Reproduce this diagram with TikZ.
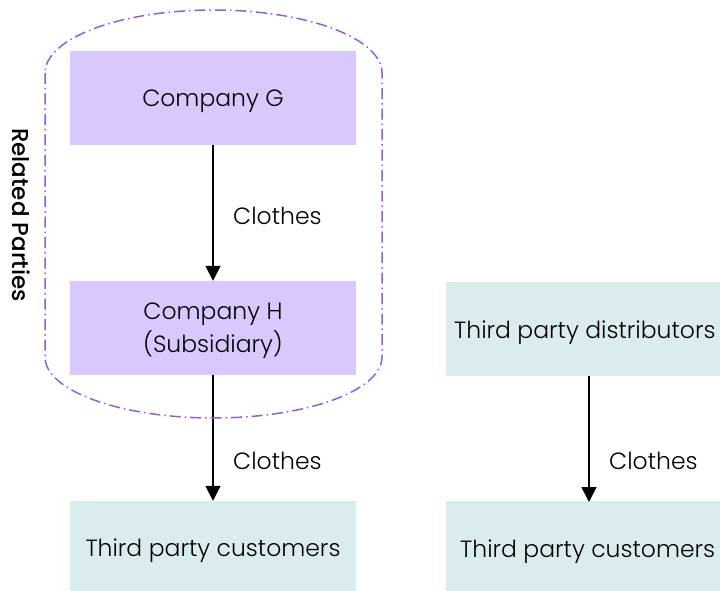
\documentclass[tikz,border=0pt]{standalone}
\usepackage{fontspec}
\setmainfont{Poppins}[UprightFont={* Light}, BoldFont={* Medium}]
\usetikzlibrary{arrows.meta}
\definecolor{lavender}{HTML}{D9C8FD}
\definecolor{paleteal}{HTML}{DBECEE}
\definecolor{groupline}{HTML}{8F5FD8}
\newcommand{\boxfont}{\fontsize{23.5}{33}\selectfont}
\tikzset{
  x=1pt, y=-1pt,
  related/.style={fill=lavender, draw=none, minimum width=286pt, minimum height=94pt,
    align=center, inner sep=0pt, text depth=0pt, font=\boxfont},
  external/.style={fill=paleteal, draw=none, minimum height=94pt,
    align=center, inner sep=0pt, text depth=0pt, font=\boxfont},
  boxtext/.style={font=\boxfont, anchor=west, inner sep=0pt, text depth=0pt},
  flow/.style={draw=black, line width=1.8pt, -{Triangle[length=15pt,width=15pt]}},
  flowlabel/.style={font=\boxfont, anchor=west, inner sep=0pt},
}
\begin{document}
\begin{tikzpicture}
\useasboundingbox (0,0) rectangle (720,591);
\begin{scope}
\clip (0,0) rectangle (720,591);
% related-party group boxes
\node[related] (g) at (213,98) {Company G};
\node[related] (h) at (213,328) {Company H\\(Subsidiary)};
% external parties
\node[external, minimum width=286pt] (c1) at (213,548) {Third party customers};
\node[external, minimum width=290pt, anchor=west] (d) at (446,329) {};
\node[external, minimum width=290pt, anchor=west] (c2) at (446,548) {};
\node[boxtext] (dt) at (454,330) {Third party distributors};
\node[boxtext] (ct) at (460,549) {Third party customers};
\end{scope}
% flows of goods
\coordinate (dbot) at (589,376);
\coordinate (c2top) at (589,502);
\draw[flow] (g.south) -- (h.north);
\draw[flow] (h.south) -- (c1.north);
\draw[flow] (dbot) -- (c2top);
\node[flowlabel] (l1) at (233,216) {Clothes};
\node[flowlabel] (l2) at (233,461) {Clothes};
\node[flowlabel] (l3) at (609,461) {Clothes};
% related parties boundary
\draw[groupline, line width=1.5pt, dash pattern=on 11pt off 4pt on 1.5pt off 4pt]
  (45,73) -- (45,357) arc[start angle=180, end angle=360, x radius=168.5, y radius=-61]
  -- (382,73) arc[start angle=0, end angle=180, x radius=168.5, y radius=-63] -- cycle;
\node[rotate=-90, font=\fontsize{23}{26}\selectfont\bfseries, inner sep=0pt] (rp) at (21,215) {Related Parties};
\end{tikzpicture}
\end{document}
